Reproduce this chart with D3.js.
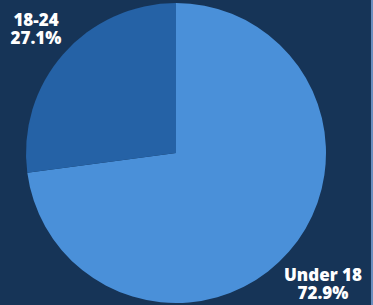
<html>
<head>
    <script src="https://d3js.org/d3.v7.min.js"></script>
</head>
<style>
    body { margin: 0; background: #163457; }
    .lbl {
        font-family: "Open Sans";
        font-weight: 800;
        font-size: 17px;
        fill: white;
    }
</style>
<body>
    <svg id="pie" width="373" height="305"></svg>
    <script>
        // age groups and their share
        const categories = ["Under 18", "18-24"];
        const shares = [72.9, 27.1];
        const labels = ["72.9%", "27.1%"];
        const colors = ["#4a90d9", "#2562a6"];

        const svg = d3.select("svg#pie");
        const width = +svg.attr("width");
        const height = +svg.attr("height");

        svg.append("rect")
           .attr("width", width).attr("height", height)
           .attr("fill", "#163457");
        // thin light strip on the right edge
        svg.append("rect")
           .attr("x", width - 2).attr("width", 2).attr("height", height)
           .attr("fill", "#6b8fbf");

        const cx = 176, cy = 153, r = 150;
        const pie = d3.pie().sort(null).value(d => d)(shares);
        const arc = d3.arc().innerRadius(0).outerRadius(r);

        const g = svg.append("g").attr("transform", "translate(" + cx + "," + cy + ")");
        g.selectAll("path").data(pie)
         .join("path")
         .attr("d", arc)
         .attr("fill", (d, i) => colors[i]);

        // labels: Under 18 bottom right, 18-24 top left (two lines, centred)
        const pos = [
            { x: 323, y: 281 },
            { x: 36, y: 26 }
        ];
        categories.forEach((c, i) => {
            svg.append("text")
               .attr("class", "lbl")
               .attr("text-anchor", "middle")
               .attr("x", pos[i].x).attr("y", pos[i].y)
               .text(c);
            svg.append("text")
               .attr("class", "lbl")
               .attr("text-anchor", "middle")
               .attr("x", pos[i].x).attr("y", pos[i].y + 18)
               .text(labels[i]);
        });
    </script>
</body>
</html>
